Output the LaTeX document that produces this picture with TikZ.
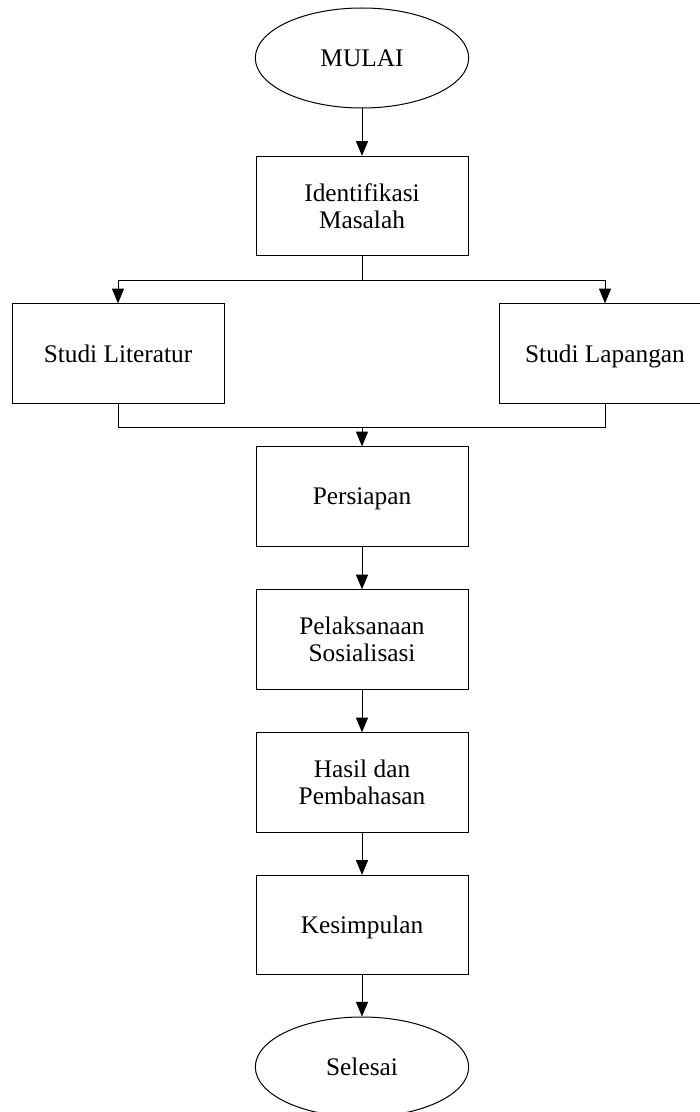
\documentclass[tikz,border=0pt]{standalone}
\usepackage{fontspec}
\setmainfont{Liberation Serif}
\usetikzlibrary{shapes.geometric,arrows.meta}
\begin{document}
\begin{tikzpicture}[x=0.75pt,y=-0.75pt,line width=0.75pt,>={Triangle[length=11pt,width=9pt]}]
		\tikzset{block/.style={rectangle, align=center, minimum width=159pt, minimum height=74.5pt, font=\fontsize{19}{20}\selectfont}};
		\tikzset{term/.style={ellipse, align=center, minimum width=160pt, minimum height=75pt, font=\fontsize{19}{20}\selectfont}};
		\tikzset{single/.style={text depth=0pt}};
		\useasboundingbox (0,0) rectangle (699,1112);
		\node[draw,term ,single] (Mulai     ) at (362,  58  ) {MULAI};
		\node[draw,block       ] (Identif   ) at (362, 206  ) {Identifikasi\\Masalah};
		\node[draw,block,single] (Literatur ) at (118, 353.5) {Studi Literatur};
		\node[draw,block,single] (Lapangan  ) at (605, 353.5) {Studi Lapangan};
		\node[draw,block,single] (Persiapan ) at (362, 496.5) {Persiapan};
		\node[draw,block       ] (Pelaksana ) at (362, 639.5) {Pelaksanaan\\Sosialisasi};
		\node[draw,block       ] (Hasil     ) at (362, 782.5) {Hasil dan\\Pembahasan};
		\node[draw,block,single] (Kesimpulan) at (362, 925  ) {Kesimpulan};
		\node[draw,term ,single] (Selesai   ) at (362,1067  ) {Selesai};
		\coordinate              (split     ) at (362, 281  );
		\coordinate              (merge     ) at (362, 427  );
		\draw[->] (Mulai     )--(Identif   );
		\draw     (Identif   )--(split     );
		\draw[->] (split     )-|(Literatur );
		\draw[->] (split     )-|(Lapangan  );
		\draw     (Literatur )|-(merge     );
		\draw     (Lapangan  )|-(merge     );
		\draw[->] (merge     )--(Persiapan );
		\draw[->] (Persiapan )--(Pelaksana );
		\draw[->] (Pelaksana )--(Hasil     );
		\draw[->] (Hasil     )--(Kesimpulan);
		\draw[->] (Kesimpulan)--(Selesai   );
	\end{tikzpicture}
\end{document}
